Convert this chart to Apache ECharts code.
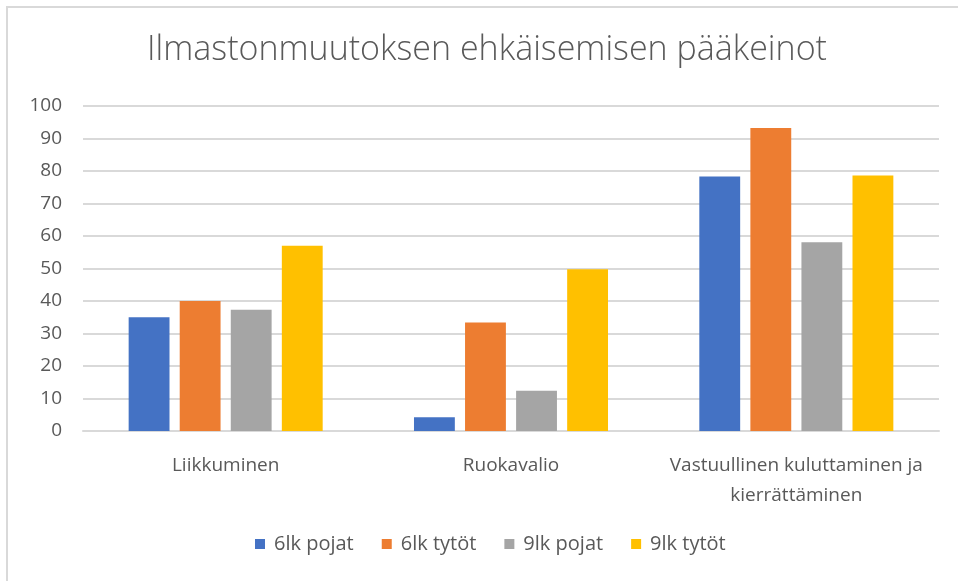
<!DOCTYPE html>
<html>
<head>
<meta charset="utf-8">
<script src="https://cdn.jsdelivr.net/npm/echarts@6/dist/echarts.min.js"></script>
<style>
  html, body { margin: 0; padding: 0; background: #fff; }
  #chart { width: 958px; height: 581px; }
</style>
</head>
<body>
<div id="chart"></div>
<script>
const categories = ["Liikkuminen", "Ruokavalio", "Vastuullinen kuluttaminen ja kierrättäminen"];
const seriesNames = ["6lk pojat", "6lk tytöt", "9lk pojat", "9lk tytöt"];
const pojat6 = [35, 4.2, 78.3];
const tytot6 = [40, 33.4, 93.2];
const pojat9 = [37.3, 12.4, 58.1];
const tytot9 = [57, 49.8, 78.6];
const colors = ["#4472C4", "#ED7D31", "#A5A5A5", "#FFC000"];

const chart = echarts.init(document.getElementById("chart"));
const font = "'Open Sans', 'Noto Sans', sans-serif";

const values = [pojat6, tytot6, pojat9, tytot9];

const option = {
  animation: false,
  textStyle: { fontFamily: font },
  title: {
    text: "Ilmastonmuutoksen ehkäisemisen pääkeinot",
    left: 482,
    top: 28,
    textAlign: "center",
    textStyle: { color: "#595959", fontSize: 34, fontWeight: 300, fontFamily: font },
  },
  graphic: [
    {
      type: "rect",
      shape: { x: 7, y: 7, width: 980, height: 600 },
      style: { fill: "none", stroke: "#d9d9d9", lineWidth: 2 },
      silent: true,
    },
  ],
  legend: {
    data: seriesNames,
    bottom: 22,
    left: 250,
    itemWidth: 10,
    itemHeight: 10,
    itemGap: 28,
    icon: "rect",
    textStyle: { color: "#595959", fontSize: 20, fontFamily: font, padding: [0, 0, 0, 4] },
  },
  grid: {
    left: 83,
    right: 19,
    top: 106,
    bottom: 150,
    containLabel: false,
  },
  xAxis: {
    type: "category",
    data: categories,
    axisLine: { show: true, lineStyle: { color: "#d9d9d9", width: 2 } },
    axisTick: { show: false },
    axisLabel: {
      color: "#595959",
      fontSize: 19,
      margin: 20,
      lineHeight: 30,
      interval: 0,
      formatter: (v) => v.replace(" ja ", " ja\n"),
    },
  },
  yAxis: {
    type: "value",
    min: 0,
    max: 100,
    interval: 10,
    axisLine: { show: false },
    axisTick: { show: false },
    axisLabel: { color: "#595959", fontSize: 19, margin: 21 },
    splitLine: { lineStyle: { color: "#d9d9d9", width: 2 } },
  },
  series: seriesNames.map((name, i) => ({
    name: name,
    type: "bar",
    data: values[i],
    barGap: "25%",
    barCategoryGap: "32%",
    itemStyle: { color: colors[i] },
  })),
};

chart.setOption(option);
</script>
</body>
</html>
